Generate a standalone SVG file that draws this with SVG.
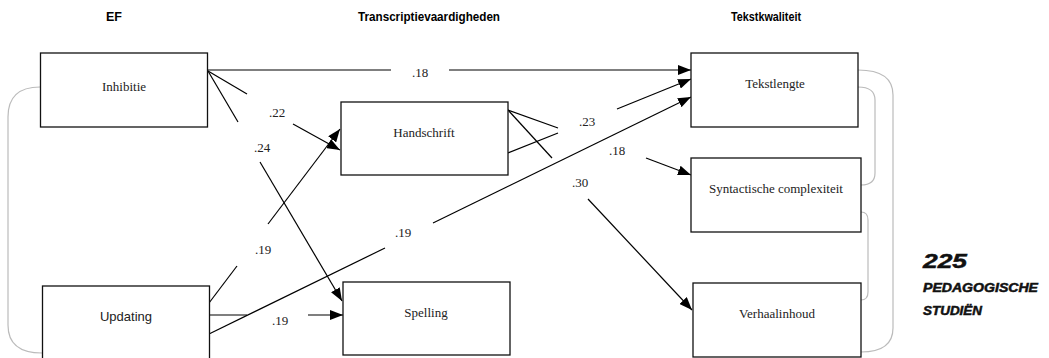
<svg xmlns="http://www.w3.org/2000/svg" width="1049" height="358" viewBox="0 0 1049 358">
<defs>
<marker id="ah" markerUnits="userSpaceOnUse" markerWidth="13" markerHeight="10" refX="13" refY="5" orient="auto">
<path d="M0,0 L13,5 L0,10 z" fill="#000"/>
</marker>
<style>
.box{fill:#fff;stroke:#111;stroke-width:1.3}
.lbl{font-family:"Liberation Serif","Times New Roman",serif;font-size:13px;fill:#222;text-anchor:middle}
.lbls{font-family:"Liberation Sans",Arial,sans-serif;font-size:13px;fill:#222;text-anchor:middle}
.coef{font-family:"Liberation Serif","Times New Roman",serif;font-size:13px;fill:#222;text-anchor:middle}
.hdr{font-family:"Liberation Sans",Arial,sans-serif;font-size:12.5px;font-weight:bold;fill:#000;text-anchor:middle}
.edge{stroke:#000;stroke-width:1.2;fill:none}
.corr{stroke:#bbb;stroke-width:1.2;fill:none}
.brand{font-family:"Liberation Sans",Arial,sans-serif;font-weight:bold;font-style:italic;fill:#111;stroke:#111;stroke-width:0.5}
</style>
</defs>
<rect width="1049" height="358" fill="#fff"/>

<g id="headers">
<text class="hdr" x="114" y="21">EF</text>
<text class="hdr" x="429" y="21" textLength="142" lengthAdjust="spacingAndGlyphs">Transcriptievaardigheden</text>
<text class="hdr" x="766" y="21" textLength="70" lengthAdjust="spacingAndGlyphs">Tekstkwaliteit</text>
</g>

<g id="correlations">
<path class="corr" d="M40,87 Q8,87 8,117 L8,325 Q8,353 42,353"/>
<path class="corr" d="M858,70 Q893,70 893,95 L893,328 Q893,352 861,352"/>
<path class="corr" d="M858,87 Q875,87 875,100 L875,173 Q875,185 861,185"/>
<path class="corr" d="M861,212 Q868,212 868,220 L868,292 Q868,300 861,300"/>
</g>

<g id="connectors">
<line class="edge" x1="207" y1="70" x2="391" y2="70"/>
<line class="edge" x1="449" y1="70" x2="691" y2="70" marker-end="url(#ah)"/>
<line class="edge" x1="208" y1="71" x2="247" y2="94"/>
<line class="edge" x1="293" y1="124" x2="340" y2="150" marker-end="url(#ah)"/>
<line class="edge" x1="208" y1="71" x2="238" y2="122"/>
<line class="edge" x1="260" y1="162" x2="342" y2="301" marker-end="url(#ah)"/>
<line class="edge" x1="209" y1="303" x2="237" y2="266"/>
<line class="edge" x1="268" y1="224" x2="340" y2="129" marker-end="url(#ah)"/>
<line class="edge" x1="209" y1="315" x2="247" y2="315"/>
<line class="edge" x1="308" y1="315" x2="343" y2="315" marker-end="url(#ah)"/>
<line class="edge" x1="209" y1="334" x2="385" y2="248"/>
<line class="edge" x1="433" y1="223" x2="691" y2="97" marker-end="url(#ah)"/>
<line class="edge" x1="508" y1="153" x2="558" y2="133"/>
<line class="edge" x1="617" y1="109" x2="691" y2="79" marker-end="url(#ah)"/>
<line class="edge" x1="508" y1="110" x2="558" y2="128"/>
<line class="edge" x1="646" y1="158" x2="691" y2="175" marker-end="url(#ah)"/>
<line class="edge" x1="508" y1="110" x2="552" y2="158"/>
<line class="edge" x1="588" y1="199" x2="692" y2="310" marker-end="url(#ah)"/>
<text class="coef" x="420" y="77">.18</text>
<text class="coef" x="277" y="117">.22</text>
<text class="coef" x="262" y="152">.24</text>
<text class="coef" x="263" y="254">.19</text>
<text class="coef" x="280" y="325">.19</text>
<text class="coef" x="403" y="237">.19</text>
<text class="coef" x="587" y="126">.23</text>
<text class="coef" x="617" y="155">.18</text>
<text class="coef" x="580" y="187">.30</text>
</g>

<g id="inhibitie">
<rect class="box" x="40.5" y="53" width="167" height="74"/>
<text class="lbl" x="124" y="91">Inhibitie</text>
</g>
<g id="updating">
<rect class="box" x="42.5" y="286" width="167" height="80"/>
<text class="lbls" x="126" y="321">Updating</text>
</g>
<g id="handschrift">
<rect class="box" x="341" y="102" width="167" height="73"/>
<text class="lbl" x="424" y="137">Handschrift</text>
</g>
<g id="spelling">
<rect class="box" x="343" y="282" width="167" height="73"/>
<text class="lbl" x="426" y="317">Spelling</text>
</g>
<g id="tekstlengte">
<rect class="box" x="691" y="53" width="167" height="74"/>
<text class="lbl" x="775" y="88">Tekstlengte</text>
</g>
<g id="syntactische">
<rect class="box" x="691" y="158" width="170" height="74"/>
<text class="lbl" x="776" y="193">Syntactische complexiteit</text>
</g>
<g id="verhaalinhoud">
<rect class="box" x="693" y="283" width="168" height="74"/>
<text class="lbl" x="777" y="318">Verhaalinhoud</text>
</g>

<g id="brand">
<text class="brand" x="923" y="268" font-size="21" textLength="44" lengthAdjust="spacingAndGlyphs">225</text>
<text class="brand" x="923" y="292" font-size="12" textLength="115" lengthAdjust="spacingAndGlyphs" stroke-width="0.3">PEDAGOGISCHE</text>
<text class="brand" x="923" y="315" font-size="12" textLength="59" lengthAdjust="spacingAndGlyphs" stroke-width="0.3">STUDIËN</text>
</g>
</svg>
